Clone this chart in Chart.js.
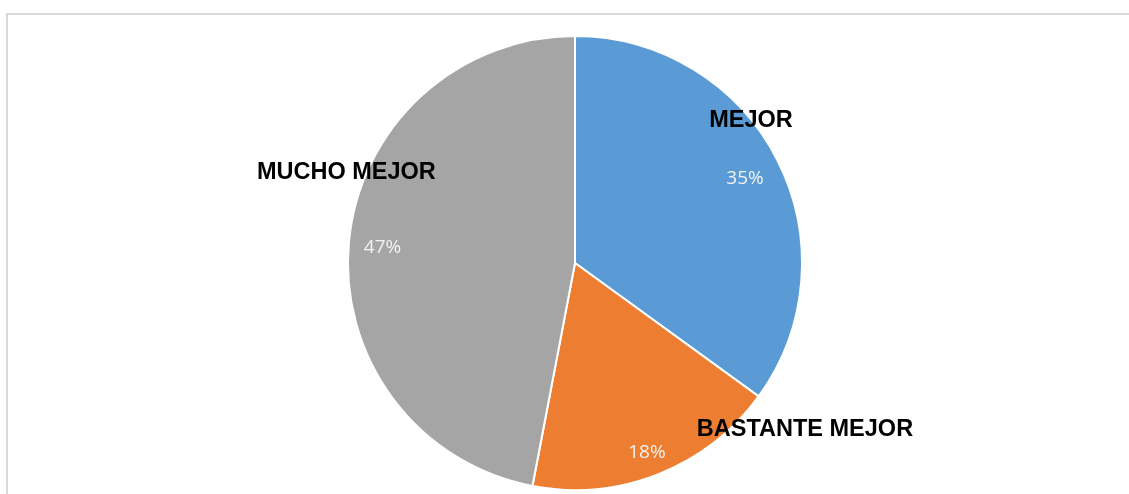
<!DOCTYPE html>
<html>
<head>
<meta charset="utf-8">
<script src="https://cdn.jsdelivr.net/npm/chart.js@4.4.0/dist/chart.umd.min.js"></script>
<style>
  html, body { margin: 0; padding: 0; background: #fff; overflow: hidden; }
  #wrap { position: relative; width: 1129px; height: 494px; }
  #frame { position: absolute; left: 6px; top: 13px; width: 1300px; height: 700px;
           border: 2px solid #d9d9d9; box-sizing: border-box; }
  #c { position: absolute; left: 0; top: 0; }
</style>
</head>
<body>
<div id="wrap">
  <div id="frame"></div>
  <canvas id="c" width="1129" height="494"></canvas>
</div>
<script>
const categories = ['MEJOR', 'BASTANTE MEJOR', 'MUCHO MEJOR'];
const values = [35, 18, 47];
const colors = ['#5B9BD5', '#ED7D31', '#A5A5A5'];

// label placement (offsets relative to pie centre, in units of outer radius)
const catLabelPos = [[0.775, -0.626], [1.013, 0.733], [-1.007, -0.399]];
const pctLabelPos = [[0.749, -0.374], [0.317, 0.837], [-0.848, -0.070]];

const labelPlugin = {
  id: 'pieLabels',
  afterDatasetsDraw(chart) {
    const ctx = chart.ctx;
    const meta = chart.getDatasetMeta(0);
    const ds = chart.data.datasets[0];
    const total = ds.data.reduce((a, b) => a + b, 0);
    meta.data.forEach((arc, i) => {
      const { x, y, outerRadius } = arc.getProps(['x', 'y', 'outerRadius'], true);
      ctx.save();
      ctx.textAlign = 'center';
      ctx.textBaseline = 'middle';
      // percent
      ctx.fillStyle = '#f2f2f2';
      ctx.font = '19px "Open Sans", sans-serif';
      const pct = Math.round(ds.data[i] / total * 100) + '%';
      ctx.fillText(pct, x + pctLabelPos[i][0] * outerRadius, y + pctLabelPos[i][1] * outerRadius);
      // category
      ctx.fillStyle = '#000000';
      ctx.font = 'bold 23.5px "Liberation Sans", Arial, sans-serif';
      ctx.fillText(chart.data.labels[i], x + catLabelPos[i][0] * outerRadius, y + catLabelPos[i][1] * outerRadius);
      ctx.restore();
    });
  }
};

new Chart(document.getElementById('c'), {
  type: 'pie',
  data: {
    labels: categories,
    datasets: [{
      data: values,
      backgroundColor: colors,
      borderColor: '#ffffff',
      borderWidth: 2
    }]
  },
  options: {
    responsive: false,
    animation: false,
    layout: { padding: { top: 35, bottom: 3, left: 21, right: 0 } },
    plugins: {
      legend: { display: false },
      tooltip: { enabled: false }
    }
  },
  plugins: [labelPlugin]
});
</script>
</body>
</html>
